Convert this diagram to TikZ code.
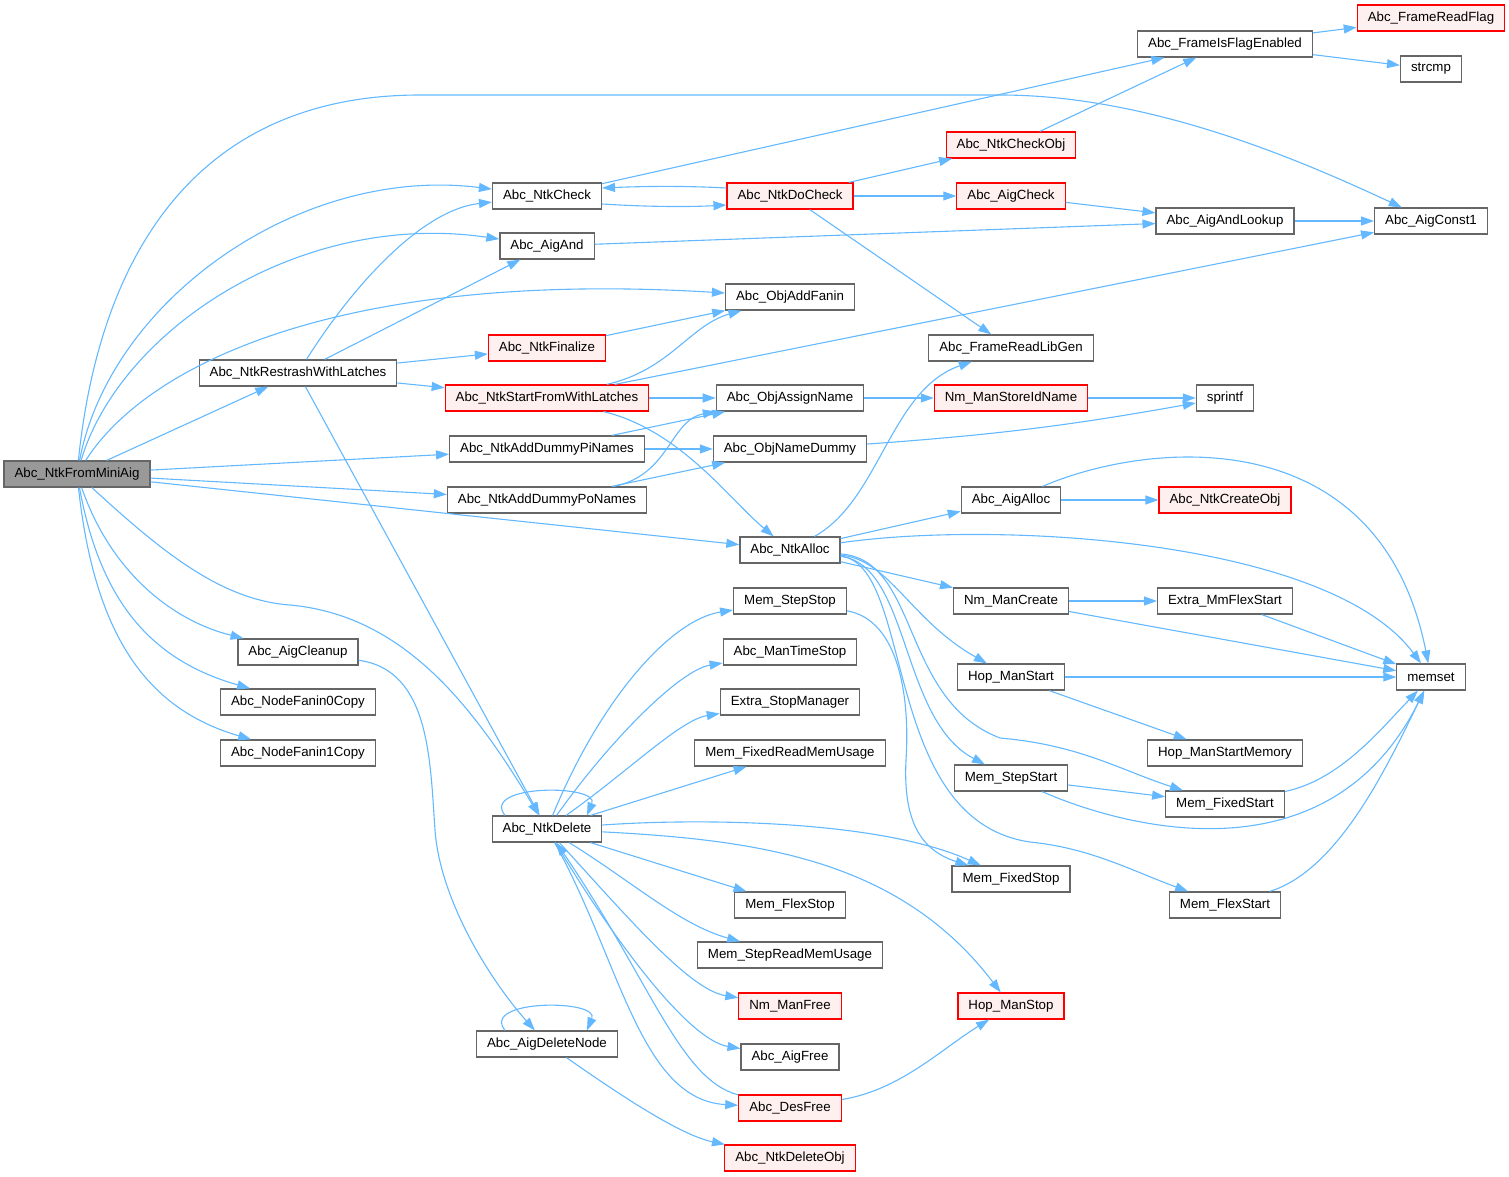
\documentclass[tikz,border=0pt]{standalone}
\usepackage{fontspec}
\setmainfont{Liberation Sans}
\usetikzlibrary{arrows.meta}
\definecolor{edgeblue}{HTML}{63B8FF}
\definecolor{boxgray}{HTML}{666666}
\definecolor{redline}{HTML}{FF0000}
\definecolor{redfill}{HTML}{FFF0F0}
\definecolor{rootfill}{HTML}{999999}
\tikzset{
  fn/.style={draw=boxgray, line width=1.2pt, fill=white, inner xsep=10.5pt, inner ysep=0pt, minimum height=26pt, font=\fontsize{13.3}{16}\selectfont},
  fnred/.style={fn, draw=redline, fill=redfill},
  fnroot/.style={fn, fill=rootfill},
  call/.style={draw=edgeblue, line width=1.1pt, -{Triangle[length=13pt,width=9pt]}}
}
\begin{document}
\begin{tikzpicture}[x=1pt,y=-1pt]
    \useasboundingbox (0,0) rectangle (1509,1177);
    % columna 1 i 2
    \node[fnroot] (fromMini) at (77,474) {Abc\_NtkFromMiniAig};
    \node[fn] (restrash) at (298,373) {Abc\_NtkRestrashWithLatches};
    \node[fn] (aigCleanup) at (298,652) {Abc\_AigCleanup};
    \node[fn] (fanin0) at (298,702) {Abc\_NodeFanin0Copy};
    \node[fn] (fanin1) at (298,753) {Abc\_NodeFanin1Copy};
    % columna 3
    \node[fn] (ntkCheck) at (547,196) {Abc\_NtkCheck};
    \node[fn] (aigAnd) at (547,246) {Abc\_AigAnd};
    \node[fnred] (finalize) at (547,348) {Abc\_NtkFinalize};
    \node[fnred] (startFrom) at (547,398) {Abc\_NtkStartFromWithLatches};
    \node[fn] (dummyPi) at (547,449) {Abc\_NtkAddDummyPiNames};
    \node[fn] (dummyPo) at (547,500) {Abc\_NtkAddDummyPoNames};
    \node[fn] (ntkDelete) at (547,829) {Abc\_NtkDelete};
    \node[fn] (aigDelNode) at (547,1044) {Abc\_AigDeleteNode};
    % columna 4
    \node[fn] (addFanin) at (790,297) {Abc\_ObjAddFanin};
    \node[fnred] (doCheck) at (790,196) {Abc\_NtkDoCheck};
    \node[fn] (assignName) at (790,398) {Abc\_ObjAssignName};
    \node[fn] (nameDummy) at (790,449) {Abc\_ObjNameDummy};
    \node[fn] (ntkAlloc) at (790,550) {Abc\_NtkAlloc};
    \node[fn] (stepStop) at (790,601) {Mem\_StepStop};
    \node[fn] (timeStop) at (790,652) {Abc\_ManTimeStop};
    \node[fn] (stopMan) at (790,702) {Extra\_StopManager};
    \node[fn] (fixedRead) at (790,753) {Mem\_FixedReadMemUsage};
    \node[fn] (flexStop) at (790,905) {Mem\_FlexStop};
    \node[fn] (stepRead) at (790,955) {Mem\_StepReadMemUsage};
    \node[fnred] (nmFree) at (790,1006) {Nm\_ManFree};
    \node[fn] (aigFree) at (790,1057) {Abc\_AigFree};
    \node[fnred] (desFree) at (790,1108) {Abc\_DesFree};
    \node[fnred] (deleteObj) at (790,1158) {Abc\_NtkDeleteObj};
    % columna 5
    \node[fnred] (checkObj) at (1011,145) {Abc\_NtkCheckObj};
    \node[fnred] (aigCheck) at (1011,196) {Abc\_AigCheck};
    \node[fn] (libGen) at (1011,348) {Abc\_FrameReadLibGen};
    \node[fnred] (storeId) at (1011,398) {Nm\_ManStoreIdName};
    \node[fn] (aigAlloc) at (1011,500) {Abc\_AigAlloc};
    \node[fn] (nmCreate) at (1011,601) {Nm\_ManCreate};
    \node[fn] (hopStart) at (1011,677) {Hop\_ManStart};
    \node[fn] (stepStart) at (1011,778) {Mem\_StepStart};
    \node[fn] (fixedStop) at (1011,879) {Mem\_FixedStop};
    \node[fnred] (hopStop) at (1011,1006) {Hop\_ManStop};
    % columna 6 i 7
    \node[fn] (flagEnabled) at (1225,44) {Abc\_FrameIsFlagEnabled};
    \node[fn] (andLookup) at (1225,221) {Abc\_AigAndLookup};
    \node[fn] (sprintf) at (1225,398) {sprintf};
    \node[fnred] (createObj) at (1225,500) {Abc\_NtkCreateObj};
    \node[fn] (mmFlex) at (1225,601) {Extra\_MmFlexStart};
    \node[fn] (startMem) at (1225,753) {Hop\_ManStartMemory};
    \node[fn] (fixedStart) at (1225,804) {Mem\_FixedStart};
    \node[fn] (flexStart) at (1225,905) {Mem\_FlexStart};
    \node[fnred] (readFlag) at (1431,18) {Abc\_FrameReadFlag};
    \node[fn] (strcmp) at (1431,69) {strcmp};
    \node[fn] (const1) at (1431,221) {Abc\_AigConst1};
    \node[fn] (memset) at (1431,677) {memset};

    % crides de Abc_NtkFromMiniAig
    \draw[call] (fromMini) .. controls (100,250) and (200,95) .. (420,95) -- (1000,95) .. controls (1150,95) and (1300,160) .. (const1);
    \draw[call] (fromMini) .. controls (110,300) and (300,165) .. (ntkCheck);
    \draw[call] (fromMini) .. controls (120,330) and (300,210) .. (aigAnd);
    \draw[call] (fromMini) .. controls (150,360) and (350,270) .. (addFanin);
    \draw[call] (fromMini) -- (restrash);
    \draw[call] (fromMini) -- (dummyPi);
    \draw[call] (fromMini) -- (dummyPo);
    \draw[call] (fromMini) -- (ntkAlloc);
    \draw[call] (fromMini) .. controls (160,550) and (220,600) .. (290,605) .. controls (400,615) and (470,700) .. (ntkDelete);
    \draw[call] (fromMini) .. controls (110,570) and (170,620) .. (aigCleanup);
    \draw[call] (fromMini) .. controls (100,600) and (150,660) .. (fanin0);
    \draw[call] (fromMini) .. controls (95,640) and (150,710) .. (fanin1);

    % part de dalt
    \draw[call] (ntkCheck) -- (flagEnabled);
    \draw[call] ([yshift=-8pt]ntkCheck.east) .. controls (650,207) and (690,207) .. ([yshift=-9pt]doCheck.west);
    \draw[call] ([yshift=8pt]doCheck.west) .. controls (690,186) and (650,186) .. ([yshift=8pt]ntkCheck.east);
    \draw[call] (doCheck) -- (checkObj);
    \draw[call] (doCheck) -- (aigCheck);
    \draw[call] (doCheck) -- (libGen);
    \draw[call] (checkObj) -- (flagEnabled);
    \draw[call] (flagEnabled) -- (readFlag);
    \draw[call] (flagEnabled) -- (strcmp);
    \draw[call] (aigCheck) -- (andLookup);
    \draw[call] (aigAnd) -- (andLookup);
    \draw[call] (andLookup) -- (const1);
    \draw[call] (restrash) .. controls (350,290) and (420,210) .. (ntkCheck);
    \draw[call] (restrash) -- (aigAnd);
    \draw[call] (restrash) -- (finalize);
    \draw[call] (restrash) -- (startFrom);
    \draw[call] (restrash) -- (ntkDelete);
    \draw[call] (finalize) -- (addFanin);
    \draw[call] (startFrom) .. controls (670,370) and (690,325) .. (addFanin);
    \draw[call] (startFrom) -- (const1);
    \draw[call] (startFrom) -- (assignName);
    \draw[call] (startFrom) .. controls (680,430) and (730,500) .. (ntkAlloc);
    \draw[call] (dummyPi) -- (assignName);
    \draw[call] (dummyPi) -- (nameDummy);
    \draw[call] (dummyPo) .. controls (670,475) and (670,420) .. (assignName);
    \draw[call] (dummyPo) -- (nameDummy);
    \draw[call] (assignName) -- (storeId);
    \draw[call] (storeId) -- (sprintf);
    \draw[call] (nameDummy) to[bend right=3] (sprintf);

    % Abc_NtkAlloc
    \draw[call] (ntkAlloc) .. controls (880,500) and (890,390) .. (libGen);
    \draw[call] (ntkAlloc) -- (aigAlloc);
    \draw[call] (ntkAlloc) .. controls (1000,520) and (1330,540) .. (memset);
    \draw[call] (ntkAlloc) -- (nmCreate);
    \draw[call] (ntkAlloc) .. controls (890,560) and (910,620) .. (hopStart);
    \draw[call] (ntkAlloc) .. controls (910,565) and (900,720) .. (stepStart);
    \draw[call] (ntkAlloc) .. controls (920,560) and (900,700) .. (1000,738) .. controls (1080,745) and (1120,770) .. (fixedStart);
    \draw[call] (ntkAlloc) .. controls (915,565) and (880,820) .. (1030,842) .. controls (1090,848) and (1130,870) .. (flexStart);
    \draw[call] (stepStop) .. controls (900,620) and (910,700) .. (906,760) .. controls (903,820) and (920,850) .. (fixedStop);
    \draw[call] (aigAlloc) -- (createObj);
    \draw[call] (aigAlloc) .. controls (1150,440) and (1380,420) .. (memset);
    \draw[call] (nmCreate) -- (mmFlex);
    \draw[call] (nmCreate) -- (memset);
    \draw[call] (mmFlex) -- (memset);
    \draw[call] (hopStart) -- (memset);
    \draw[call] (hopStart) -- (startMem);
    \draw[call] (stepStart) -- (fixedStart);
    \draw[call] (stepStart) .. controls (1130,830) and (1330,880) .. (memset);
    \draw[call] (fixedStart) .. controls (1340,780) and (1380,730) .. (memset);
    \draw[call] (flexStart) .. controls (1340,870) and (1390,760) .. (memset);

    % Abc_NtkDelete
    \draw[call] ([xshift=-42pt]ntkDelete.north) .. controls (480,784) and (600,784) .. ([xshift=40pt]ntkDelete.north);
    \draw[call] (ntkDelete) .. controls (600,700) and (670,620) .. (stepStop);
    \draw[call] (ntkDelete) .. controls (610,740) and (680,670) .. (timeStop);
    \draw[call] (ntkDelete) .. controls (630,770) and (680,720) .. (stopMan);
    \draw[call] (ntkDelete) -- (fixedRead);
    \draw[call] (ntkDelete) .. controls (700,818) and (880,820) .. (fixedStop);
    \draw[call] (ntkDelete) .. controls (760,840) and (900,860) .. (hopStop);
    \draw[call] (ntkDelete) -- (flexStop);
    \draw[call] (ntkDelete) .. controls (630,880) and (680,925) .. (stepRead);
    \draw[call] (ntkDelete) .. controls (630,920) and (690,990) .. (nmFree);
    \draw[call] (ntkDelete) .. controls (620,950) and (690,1040) .. (aigFree);
    \draw[call] (ntkDelete) .. controls (620,960) and (640,1100) .. (desFree);
    \draw[call] (desFree) .. controls (680,1080) and (650,980) .. (ntkDelete);
    \draw[call] (desFree) .. controls (900,1090) and (940,1050) .. (hopStop);

    % Abc_AigCleanup
    \draw[call] (aigCleanup) .. controls (430,670) and (430,760) .. (435,830) .. controls (440,900) and (490,980) .. (aigDelNode);
    \draw[call] ([xshift=-42pt]aigDelNode.north) .. controls (480,999) and (600,999) .. ([xshift=40pt]aigDelNode.north);
    \draw[call] (aigDelNode) .. controls (620,1095) and (680,1135) .. (deleteObj);
\end{tikzpicture}
\end{document}
